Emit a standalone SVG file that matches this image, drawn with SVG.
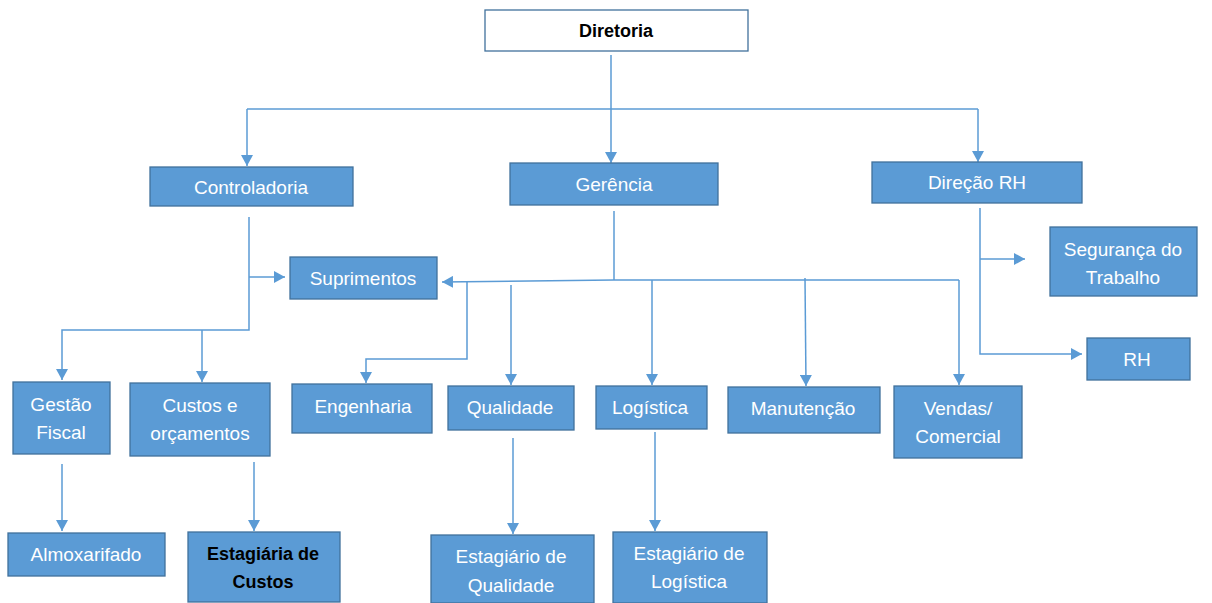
<svg xmlns="http://www.w3.org/2000/svg" width="1212" height="603" viewBox="0 0 1212 603">
<style>
.n{fill:#5B9BD5;stroke:#41719C;stroke-width:1.3}
.t{font-family:"Liberation Sans",Arial,sans-serif;font-size:19px;fill:#fff;text-anchor:middle}
.b{font-weight:bold;fill:#000;font-size:18px}
.c{fill:none;stroke:#5B9BD5;stroke-width:1.5}
</style>
<defs>
<marker id="a" markerUnits="userSpaceOnUse" markerWidth="12" markerHeight="12" viewBox="0 0 12 12" refX="11" refY="6" orient="auto">
<path d="M0,0 L11,6 L0,12 Z" fill="#5B9BD5"/>
</marker>
</defs>
<rect width="1212" height="603" fill="#fff"/>
<g id="connectors">
<path class="c" d="M611,55 V163" marker-end="url(#a)"/>
<path class="c" d="M247,109 H978"/>
<path class="c" d="M247,109 V166" marker-end="url(#a)"/>
<path class="c" d="M978,109 V162" marker-end="url(#a)"/>
<path class="c" d="M249,217 V330 H62 V380" marker-end="url(#a)"/>
<path class="c" d="M249,277 H285" marker-end="url(#a)"/>
<path class="c" d="M202,330 V382" marker-end="url(#a)"/>
<path class="c" d="M614,211 V280"/>
<path class="c" d="M959,280 L614,280 L442,282" marker-end="url(#a)"/>
<path class="c" d="M467,282 V359 H366 V383" marker-end="url(#a)"/>
<path class="c" d="M511,285 V385" marker-end="url(#a)"/>
<path class="c" d="M652,280 V385" marker-end="url(#a)"/>
<path class="c" d="M805,278 L806,386" marker-end="url(#a)"/>
<path class="c" d="M959,280 V385" marker-end="url(#a)"/>
<path class="c" d="M980,208 V354 H1082" marker-end="url(#a)"/>
<path class="c" d="M980,259 H1025" marker-end="url(#a)"/>
<path class="c" d="M62,464 V531" marker-end="url(#a)"/>
<path class="c" d="M254,462 V531" marker-end="url(#a)"/>
<path class="c" d="M513,438 V534" marker-end="url(#a)"/>
<path class="c" d="M655,432 V531" marker-end="url(#a)"/>
</g>
<g id="diretoria"><rect x="485" y="10" width="263" height="41" fill="#fff" stroke="#41719C" stroke-width="1.3"/><text class="t b" x="616" y="37">Diretoria</text></g>
<g id="controladoria"><rect class="n" x="150" y="167" width="203" height="39"/><text class="t" x="251" y="194">Controladoria</text></g>
<g id="gerencia"><rect class="n" x="510" y="163" width="208" height="42"/><text class="t" x="614" y="191">Gerência</text></g>
<g id="direcao-rh"><rect class="n" x="872" y="162" width="210" height="41"/><text class="t" x="977" y="189">Direção RH</text></g>
<g id="suprimentos"><rect class="n" x="290" y="257" width="147" height="42"/><text class="t" x="363" y="285">Suprimentos</text></g>
<g id="seguranca"><rect class="n" x="1050" y="227" width="147" height="69"/><text class="t" x="1123" y="256">Segurança do</text><text class="t" x="1123" y="284">Trabalho</text></g>
<g id="rh"><rect class="n" x="1087" y="338" width="103" height="42"/><text class="t" x="1137" y="366">RH</text></g>
<g id="gestao-fiscal"><rect class="n" x="13" y="382" width="97" height="72"/><text class="t" x="61" y="411">Gestão</text><text class="t" x="61" y="439">Fiscal</text></g>
<g id="custos"><rect class="n" x="130" y="383" width="140" height="73"/><text class="t" x="200" y="412">Custos e</text><text class="t" x="200" y="440">orçamentos</text></g>
<g id="engenharia"><rect class="n" x="292" y="384" width="140" height="49"/><text class="t" x="363" y="413">Engenharia</text></g>
<g id="qualidade"><rect class="n" x="448" y="386" width="126" height="44"/><text class="t" x="510" y="414">Qualidade</text></g>
<g id="logistica"><rect class="n" x="596" y="386" width="111" height="43"/><text class="t" x="650" y="414">Logística</text></g>
<g id="manutencao"><rect class="n" x="728" y="387" width="152" height="46"/><text class="t" x="803" y="415">Manutenção</text></g>
<g id="vendas"><rect class="n" x="894" y="386" width="128" height="72"/><text class="t" x="958" y="415">Vendas/</text><text class="t" x="958" y="443">Comercial</text></g>
<g id="almoxarifado"><rect class="n" x="8" y="533" width="157" height="43"/><text class="t" x="86" y="561">Almoxarifado</text></g>
<g id="estagiaria-custos"><rect class="n" x="188" y="532" width="152" height="70"/><text class="t b" x="263" y="560">Estagiária de</text><text class="t b" x="263" y="588">Custos</text></g>
<g id="estagiario-qualidade"><rect class="n" x="431" y="535" width="163" height="68"/><text class="t" x="511" y="563">Estagiário de</text><text class="t" x="511" y="592">Qualidade</text></g>
<g id="estagiario-logistica"><rect class="n" x="613" y="532" width="154" height="71"/><text class="t" x="689" y="560">Estagiário de</text><text class="t" x="689" y="588">Logística</text></g>
</svg>
